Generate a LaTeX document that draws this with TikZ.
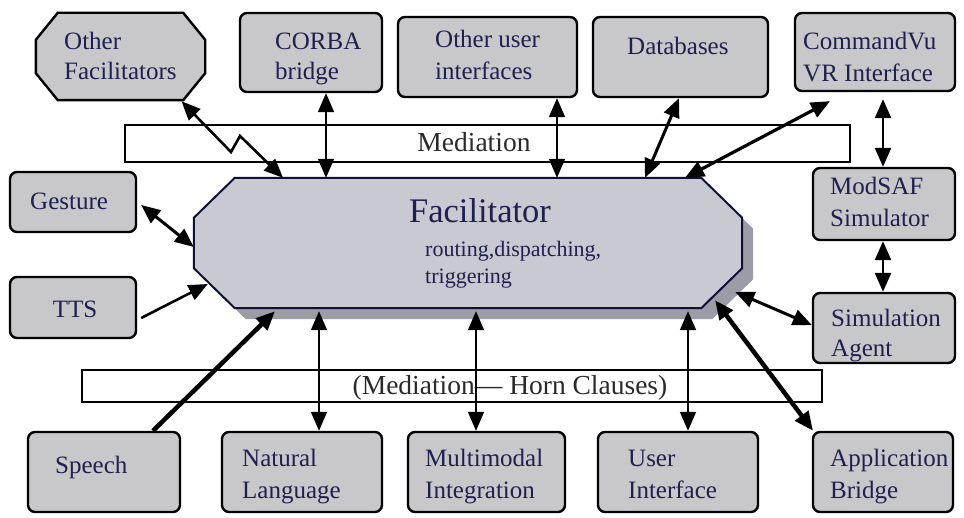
\documentclass[tikz,border=0pt]{standalone}
\usepackage{fontspec}
\setmainfont{Liberation Serif}
\usetikzlibrary{arrows.meta,calc}
\definecolor{boxgray}{HTML}{C8C8CA}
\definecolor{facgray}{HTML}{C9C9D1}
\definecolor{shadowgray}{HTML}{9C9CA6}
\definecolor{inkblue}{HTML}{1E2050}
\definecolor{facline}{HTML}{0E1038}
\definecolor{medtext}{HTML}{2A2A2A}

% octagon outline traced round the bounding box of node #1, corners cut by #2 (x) and #3 (y)
\newcommand{\octpath}[3]{($(#1.north west)+(#2,0)$) -- ($(#1.north east)+(-#2,0)$)
  -- ($(#1.north east)+(0,#3)$) -- ($(#1.south east)+(0,-#3)$)
  -- ($(#1.south east)+(-#2,0)$) -- ($(#1.south west)+(#2,0)$)
  -- ($(#1.south west)+(0,-#3)$) -- ($(#1.north west)+(0,#3)$) -- cycle}

\begin{document}
\begin{tikzpicture}[x=1pt,y=-1pt,
  box/.style={draw=black, line width=2.4pt, fill=boxgray, rounded corners=7pt, inner sep=0pt},
  frame/.style={draw=none, inner sep=0pt},
  bar/.style={draw=black, line width=2.4pt, fill=white, inner sep=0pt},
  lbl/.style={anchor=base west, inner sep=0pt, text=inkblue, font=\fontsize{25}{28}\selectfont},
  medlbl/.style={anchor=base, inner sep=0pt, text=medtext, font=\fontsize{27.5}{30}\selectfont},
  tipend/.tip={Triangle[length=19pt 0 0,width=16pt 0 0]},
  link/.style={line width=#1, tipend-tipend},
  oneway/.style={line width=#1, -tipend},
]
\fill[white] (0,0) rectangle (964,518);
\useasboundingbox (0,0) rectangle (964,518);

% mediation bars
\node[bar, minimum width=725pt, minimum height=37pt] (medtop) at (487.5,143.5) {};
\node[bar, minimum width=740pt, minimum height=32pt] (medbot) at (452,386) {};
\node[medlbl] (medtoptext) at (474,152) {Mediation};
\node[medlbl] (medbottext) at (510,395) {(Mediation— Horn Clauses)};

% facilitator with drop shadow
\node[frame, minimum width=548pt, minimum height=130pt] (facshadow) at (479,254) {};
\node[frame, minimum width=548pt, minimum height=130pt] (fac) at (468,243) {};
\fill[shadowgray] \octpath{facshadow}{41}{40};
\filldraw[draw=facline, line width=2pt, fill=facgray] \octpath{fac}{41}{40};

% agents
\node[frame, minimum width=169pt, minimum height=87pt] (ofac) at (120.5,56.5) {};
\filldraw[draw=black, line width=2.4pt, fill=boxgray] \octpath{ofac}{22}{27};
\node[box, minimum width=142pt, minimum height=79pt] (corba) at (311,52.5) {};
\node[box, minimum width=179pt, minimum height=80pt] (oui) at (487.5,57) {};
\node[box, minimum width=175pt, minimum height=80pt] (db) at (680.5,57) {};
\node[box, minimum width=160pt, minimum height=78pt] (cvu) at (875,52) {};
\node[box, minimum width=142pt, minimum height=72pt] (modsaf) at (884,204) {};
\node[box, minimum width=142pt, minimum height=70pt] (simag) at (884,328) {};
\node[box, minimum width=126pt, minimum height=60pt] (gest) at (73,202) {};
\node[box, minimum width=126pt, minimum height=61pt] (tts) at (73,307.5) {};
\node[box, minimum width=152pt, minimum height=80pt] (speech) at (104,472) {};
\node[box, minimum width=160pt, minimum height=80pt] (nl) at (302,472) {};
\node[box, minimum width=157pt, minimum height=80pt] (mm) at (486.5,472) {};
\node[box, minimum width=160pt, minimum height=80pt] (ui) at (678,472) {};
\node[box, minimum width=140pt, minimum height=80pt] (app) at (883,472) {};

% connections to the facilitator
\draw[link=2.6pt] ($(ofac.south)+(61,1)$) -- (231,152) -- (240,136) -- ($(fac.north)+(-185,0)$);
\draw[link=1.8pt] ($(corba.south)+(15,0)$) coordinate (corbaout) -- (corbaout |- fac.north);
\draw[link=1.8pt] ($(oui.south)+(69.5,0)$) coordinate (ouiout) -- (ouiout |- fac.north);
\draw[link=3pt] ($(db.south)+(-1.5,0)$) -- ($(fac.north)+(177,0)$);
\draw[link=3.2pt] ($(cvu.south)+(-45,9)$) -- ($(fac.north)+(217,0)$);
\draw[link=3pt] ($(gest.east)+(4,3)$) -- ($(fac.west)+(0,4)$);
\draw[oneway=2.6pt] ($(tts.east)+(4,10.5)$) -- ($(fac.west)+(14,41)$);
\draw[link=3pt] ($(simag.west)+(0,-3)$) -- ($(fac.east)+(-7,49)$);
\draw[oneway=4.5pt] ($(speech.north)+(49,0)$) -- ($(fac.south)+(-193,3)$);
\draw[link=1.8pt] ($(nl.north)+(17,0)$) coordinate (nlout) -- ($(nlout |- fac.south)+(0,3)$);
\draw[link=1.8pt] ($(mm.north)+(-10.5,0)$) coordinate (mmout) -- ($(mmout |- fac.south)+(0,3)$);
\draw[link=1.8pt] ($(ui.north)+(10,0)$) coordinate (uiout) -- ($(uiout |- fac.south)+(0,3)$);
\draw[link=4.5pt] ($(app.north)+(-70,0)$) -- ($(fac.south)+(247,-8)$);

% simulation chain
\draw[link=2.6pt] ($(cvu.south)+(8,7)$) coordinate (cvuout) -- (cvuout |- modsaf.north);
\draw[link=2.6pt] ($(modsaf.south)+(-1,0)$) coordinate (modout) -- (modout |- simag.north);

% labels
\node[lbl] (ofac1) at (64,50) {Other};
\node[lbl] (ofac2) at (64,80) {Facilitators};
\node[lbl] (corba1) at (275,50) {CORBA};
\node[lbl] (corba2) at (275,80) {bridge};
\node[lbl] (oui1) at (435,48) {Other user};
\node[lbl] (oui2) at (435,80) {interfaces};
\node[lbl] (db1) at (627,55) {Databases};
\node[lbl] (cvu1) at (803,50) {CommandVu};
\node[lbl] (cvu2) at (803,82) {VR Interface};
\node[lbl] (mod1) at (830,195) {ModSAF};
\node[lbl] (mod2) at (830,227) {Simulator};
\node[lbl] (sim1) at (831,327) {Simulation};
\node[lbl] (sim2) at (831,357) {Agent};
\node[lbl] (gest1) at (30,210) {Gesture};
\node[lbl, anchor=base] (tts1) at (75,318) {TTS};
\node[lbl] (sp1) at (55,473) {Speech};
\node[lbl] (nl1) at (242,467) {Natural};
\node[lbl] (nl2) at (242,498) {Language};
\node[lbl] (mm1) at (425,467) {Multimodal};
\node[lbl] (mm2) at (425,498) {Integration};
\node[lbl] (ui1) at (628,467) {User};
\node[lbl] (ui2) at (628,498) {Interface};
\node[lbl] (app1) at (830,467) {Application};
\node[lbl] (app2) at (830,498) {Bridge};

\node[anchor=base, inner sep=0pt, text=inkblue, font=\fontsize{34.5}{38}\selectfont] (factitle) at (480,223) {Facilitator};
\node[lbl, font=\fontsize{22}{26}\selectfont] (facsub1) at (425,257) {routing,dispatching,};
\node[lbl, font=\fontsize{22}{26}\selectfont] (facsub2) at (425,284) {triggering};
\end{tikzpicture}
\end{document}
